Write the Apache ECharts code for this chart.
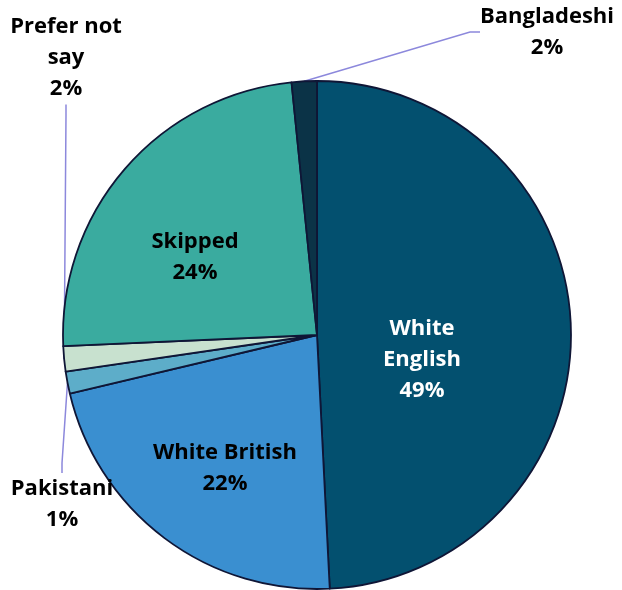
<!DOCTYPE html>
<html>
<head>
<meta charset="utf-8">
<script src="https://cdn.jsdelivr.net/npm/echarts@6/dist/echarts.min.js"></script>
<style>
  html, body { margin: 0; padding: 0; background: #fff; }
  #chart { width: 622px; height: 590px; }
</style>
</head>
<body>
<div id="chart"></div>
<script>
// slices, clockwise from 12 o'clock
const categories = ['White English', 'White British', 'Pakistani', 'Prefer not say', 'Skipped', 'Bangladeshi'];
const labelNames = ['White\nEnglish', 'White British', 'Pakistani', 'Prefer not\nsay', 'Skipped', 'Bangladeshi'];
const values = [49.2, 22.1, 1.4, 1.6, 24.1, 1.6];
const colors = ['#03506f', '#3a8fd0', '#5dadc9', '#c8e1cf', '#3aab9f', '#0b3347'];
const textColors = ['#fff', '#000', '#000', '#000', '#000', '#000'];

// where each label sits (centre of text block)
const labelSpots = {
  'White English': [422, 360],
  'White British': [225, 468],
  'Pakistani': [62, 504],
  'Prefer not say': [66, 58],
  'Skipped': [195, 257],
  'Bangladeshi': [547, 32],
};
const outside = ['Pakistani', 'Prefer not say', 'Bangladeshi'];

const chart = echarts.init(document.getElementById('chart'));

const pieData = categories.map(function (name, i) {
  const isOut = outside.indexOf(name) >= 0;
  return {
    name: name,
    value: values[i],
    itemStyle: { color: colors[i] },
    label: {
      position: isOut ? 'outside' : 'inside',
      color: textColors[i],
    },
    labelLine: { show: isOut },
  };
});

chart.setOption({
  animation: false,
  series: [
    {
      type: 'pie',
      center: [317, 335],
      radius: 254,
      startAngle: 90,
      clockwise: true,
      silent: true,
      itemStyle: { borderColor: '#0f1636', borderWidth: 1.8 },
      label: {
        fontFamily: 'Open Sans',
        fontWeight: 'bold',
        fontSize: 22,
        lineHeight: 31,
        align: 'center',
        overflow: 'none',
        formatter: function (p) {
          return labelNames[p.dataIndex] + '\n' + Math.round(p.value) + '%';
        },
      },
      labelLine: {
        lineStyle: { color: '#8c88dc', width: 1.5 },
        length: 10,
        length2: 10,
      },
      labelLayout: function (p) {
        const spot = labelSpots[categories[p.dataIndex]];
        return {
          x: spot[0],
          y: spot[1],
          align: 'center',
          verticalAlign: 'middle',
        };
      },
      data: pieData,
    },
  ],
});
</script>
</body>
</html>
